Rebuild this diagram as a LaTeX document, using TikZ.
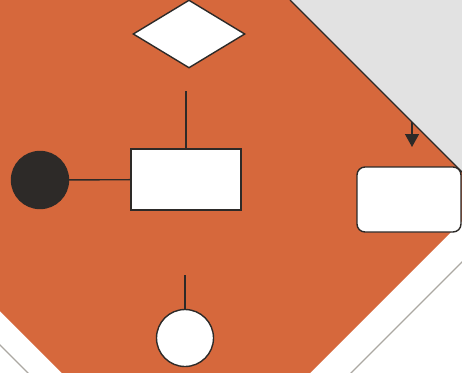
\documentclass[tikz,border=0pt]{standalone}
\usetikzlibrary{shapes.geometric,arrows.meta}
\definecolor{chartorange}{RGB}{214,104,60}
\definecolor{papergray}{RGB}{226,226,226}
\definecolor{inkdark}{RGB}{45,42,40}
\definecolor{edgegray}{RGB}{172,168,162}

\begin{document}
\begin{tikzpicture}[
    x=1pt, y=-1pt,
    every node/.style={draw=inkdark, line width=1.4pt, fill=white, inner sep=0pt},
    link/.style={draw=inkdark, line width=1.4pt}
]
\useasboundingbox (0,0) rectangle (462,372);
\clip (0,0) rectangle (462,372);

% paper, grey corner and the orange sheet
\fill[white] (0,0) rectangle (462,372);
\fill[papergray] (290,0) -- (520,0) -- (520,230) -- cycle;
\fill[chartorange] (-120,0) -- (290,0) -- (486.5,196.5) -- (186,497) -- (-120,191) -- cycle;
\draw[inkdark, line width=1.4pt] (290,0) -- (486.5,196.5);
\draw[edgegray, line width=1.1pt] (500,224) -- (340,384);
\draw[edgegray, line width=1.1pt] (-20,325) -- (40,385);

\node[diamond, aspect=1.65, minimum width=112, minimum height=68] (decision) at (189,34) {};
\node[rectangle, minimum width=110, minimum height=61] (task) at (186,179.5) {};
\node[circle, fill=inkdark, minimum size=57] (start) at (40,180) {};
\node[circle, minimum size=57] (stop) at (185,338) {};
\node[rectangle, rounded corners=8pt, minimum width=104, minimum height=65] (side) at (409,199.5) {};

\coordinate (taskin) at (186,91);
\coordinate (stopin) at (185,275);
\coordinate (flowfrom) at (412,122);
\coordinate (flowto) at (412,147);

\draw[link] (taskin) -- (task.north);
\draw[link] (start) -- (task);
\draw[link] (stopin) -- (stop.north);
\draw[link, -{Triangle[length=13pt,width=14pt]}] (flowfrom) -- (flowto);
\end{tikzpicture}
\end{document}
